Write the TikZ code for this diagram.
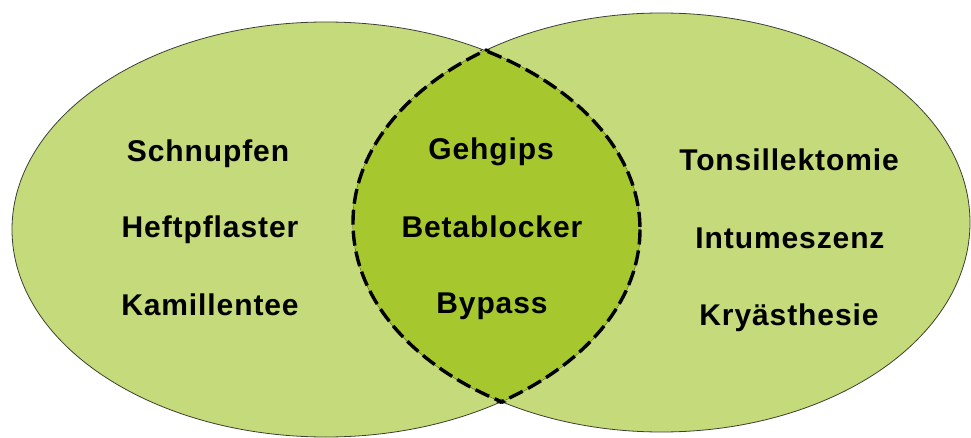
\documentclass[tikz,border=0pt]{standalone}
\usepackage{fontspec}
\setmainfont[LetterSpace=3]{Liberation Sans}
\definecolor{vennlight}{RGB}{197,218,122}
\definecolor{venndark}{RGB}{166,200,46}
\definecolor{vennline}{RGB}{60,64,50}
\tikzset{
  term/.style={font=\fontsize{30}{36}\selectfont\bfseries,anchor=base},
  lensline/.style={line width=3.4pt,dash pattern=on 15pt off 6pt}
}
\newcommand{\leftset}{(326,229.5) ellipse [x radius=314,y radius=207.5]}
\newcommand{\rightset}{(661.5,222.5) ellipse [x radius=308.5,y radius=209.5]}

\begin{document}
\begin{tikzpicture}[x=1pt,y=-1pt]
\useasboundingbox (0,0) rectangle (971,438);
\fill[vennlight] \leftset;
\fill[vennlight] \rightset;
\draw[vennline,line width=0.8pt] \leftset;
\draw[vennline,line width=0.8pt] \rightset;
% overlap
\begin{scope}
\clip \leftset;
\fill[venndark] \rightset;
\end{scope}
\begin{scope}
\clip (661.5,222.5) ellipse [x radius=311,y radius=212];
\draw[lensline] \leftset;
\end{scope}
\begin{scope}
\clip (326,229.5) ellipse [x radius=316.5,y radius=210];
\draw[lensline] \rightset;
\end{scope}
% terms
\node[term] (schnupfen) at (208,162) {Schnupfen};
\node[term] (heftpflaster) at (210,237) {Heftpflaster};
\node[term] (kamillentee) at (210,315) {Kamillentee};
\node[term] (gehgips) at (491,160) {Gehgips};
\node[term] (betablocker) at (492,237) {Betablocker};
\node[term] (bypass) at (492,313) {Bypass};
\node[term] (tonsillektomie) at (789,171) {Tonsillektomie};
\node[term] (intumeszenz) at (790,248) {Intumeszenz};
\node[term] (kryaesthesie) at (789,325) {Kryästhesie};
\end{tikzpicture}
\end{document}
